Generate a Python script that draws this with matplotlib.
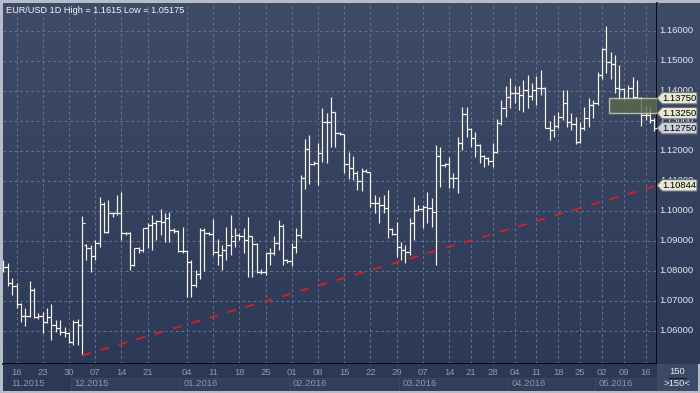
import numpy as np
import matplotlib as mpl
import matplotlib.pyplot as plt
from matplotlib.colors import LinearSegmentedColormap
from matplotlib.patches import Rectangle, Polygon
from matplotlib.transforms import blended_transform_factory

mpl.rcParams.update({'font.family': ['Liberation Sans', 'DejaVu Sans'],
                     'font.size': 6.6})

# daily EUR/USD bars, mid Nov 2015 .. mid May 2016
opens = [
    1.0815, 1.0811, 1.0760, 1.0750, 1.0690, 1.0649, 1.0650, 1.0736, 1.0647, 1.0650,
    1.0630, 1.0647, 1.0619, 1.0608, 1.0597, 1.0593, 1.0563, 1.0630, 1.0619, 1.0886,
    1.0875, 1.0849, 1.0891, 1.1022, 1.0930, 1.0991, 1.0991, 1.0991, 1.0925, 1.0925,
    1.0819, 1.0875, 1.0869, 1.0941, 1.0952, 1.0958, 1.0967, 1.0963, 1.0974, 1.0936,
    1.0933, 1.0866, 1.0866, 1.0828, 1.0752, 1.0788, 1.0936, 1.0925, 1.0922, 1.0862,
    1.0852, 1.0870, 1.0886, 1.0900, 1.0919, 1.0916, 1.0903, 1.0914, 1.0889, 1.0797,
    1.0797, 1.0858, 1.0860, 1.0891, 1.0950, 1.0836, 1.0833, 1.0880, 1.0920, 1.1108,
    1.1206, 1.1156, 1.1158, 1.1193, 1.1297, 1.1295, 1.1328, 1.1258, 1.1256, 1.1156,
    1.1143, 1.1125, 1.1100, 1.1133, 1.1130, 1.1025, 1.1025, 1.1019, 1.1008, 1.0938,
    1.0922, 1.0880, 1.0869, 1.0861, 1.0960, 1.1002, 1.1005, 1.1013, 1.1008, 1.0995,
    1.1182, 1.1152, 1.1155, 1.1108, 1.1108, 1.1225, 1.1322, 1.1272, 1.1241, 1.1219,
    1.1182, 1.1175, 1.1165, 1.1197, 1.1293, 1.1341, 1.1380, 1.1393, 1.1391, 1.1386,
    1.1402, 1.1382, 1.1402, 1.1408, 1.1408, 1.1275, 1.1269, 1.1282, 1.1313, 1.1360,
    1.1297, 1.1289, 1.1230, 1.1275, 1.1308, 1.1352, 1.1358, 1.1452, 1.1538, 1.1497,
    1.1490, 1.1408, 1.1405, 1.1375, 1.1408, 1.1378, 1.1375, 1.1319, 1.1319, 1.1302,
]
highs = [
    1.0835, 1.0827, 1.0775, 1.0758, 1.0691, 1.0675, 1.0767, 1.0741, 1.0660, 1.0663,
    1.0677, 1.0689, 1.0636, 1.0636, 1.0613, 1.0597, 1.0636, 1.0638, 1.0982, 1.0890,
    1.0886, 1.0902, 1.1047, 1.1030, 1.1036, 1.0997, 1.1052, 1.1063, 1.0930, 1.0930,
    1.0875, 1.0880, 1.0941, 1.0958, 1.0986, 1.0969, 1.1005, 1.0991, 1.0997, 1.0941,
    1.0936, 1.0947, 1.0870, 1.0836, 1.0802, 1.0941, 1.0941, 1.0930, 1.0971, 1.0905,
    1.0886, 1.0947, 1.0986, 1.0941, 1.0925, 1.0941, 1.0980, 1.0914, 1.0891, 1.0805,
    1.0860, 1.0875, 1.0914, 1.0969, 1.0955, 1.0838, 1.0891, 1.0941, 1.1120, 1.1238,
    1.1252, 1.1167, 1.1225, 1.1341, 1.1325, 1.1380, 1.1330, 1.1262, 1.1256, 1.1197,
    1.1182, 1.1133, 1.1141, 1.1138, 1.1130, 1.1052, 1.1047, 1.1052, 1.1069, 1.0941,
    1.0963, 1.0897, 1.0886, 1.0975, 1.1047, 1.1019, 1.1019, 1.1063, 1.1041, 1.1219,
    1.1213, 1.1158, 1.1180, 1.1125, 1.1245, 1.1347, 1.1347, 1.1275, 1.1263, 1.1222,
    1.1185, 1.1180, 1.1225, 1.1304, 1.1369, 1.1414, 1.1441, 1.1416, 1.1414, 1.1436,
    1.1452, 1.1425, 1.1449, 1.1469, 1.1411, 1.1300, 1.1319, 1.1330, 1.1402, 1.1402,
    1.1324, 1.1313, 1.1297, 1.1347, 1.1375, 1.1369, 1.1463, 1.1541, 1.1615, 1.1530,
    1.1519, 1.1486, 1.1408, 1.1419, 1.1447, 1.1436, 1.1380, 1.1352, 1.1347, 1.1310,
]
lows = [
    1.0795, 1.0749, 1.0719, 1.0675, 1.0630, 1.0617, 1.0647, 1.0641, 1.0640, 1.0591,
    1.0625, 1.0569, 1.0597, 1.0586, 1.0580, 1.0558, 1.0552, 1.0552, 1.05175, 1.0836,
    1.0797, 1.0836, 1.0880, 1.0925, 1.0925, 1.0980, 1.0986, 1.0902, 1.0919, 1.0802,
    1.0815, 1.0860, 1.0863, 1.0875, 1.0869, 1.0902, 1.0919, 1.0897, 1.0897, 1.0925,
    1.0863, 1.0858, 1.0713, 1.0713, 1.0747, 1.0771, 1.0800, 1.0919, 1.0852, 1.0819,
    1.0802, 1.0836, 1.0852, 1.0880, 1.0903, 1.0860, 1.0780, 1.0780, 1.0791, 1.0788,
    1.0786, 1.0819, 1.0852, 1.0869, 1.0819, 1.0825, 1.0814, 1.0860, 1.0908, 1.1071,
    1.1089, 1.1152, 1.1086, 1.1163, 1.1160, 1.1213, 1.1213, 1.1252, 1.1125, 1.1105,
    1.1102, 1.1069, 1.1067, 1.1128, 1.1013, 1.0991, 1.0958, 1.0991, 1.0908, 1.0919,
    1.0847, 1.0836, 1.0825, 1.0853, 1.0902, 1.1000, 1.0941, 1.0958, 1.0947, 1.0819,
    1.1080, 1.1147, 1.1075, 1.1075, 1.1060, 1.1202, 1.1247, 1.1213, 1.1180, 1.1158,
    1.1145, 1.1152, 1.1145, 1.1191, 1.1286, 1.1313, 1.1341, 1.1358, 1.1336, 1.1330,
    1.1341, 1.1369, 1.1352, 1.1386, 1.1275, 1.1236, 1.1247, 1.1275, 1.1302, 1.1280,
    1.1269, 1.1222, 1.1225, 1.1269, 1.1280, 1.1308, 1.1352, 1.1440, 1.1460, 1.1440,
    1.1391, 1.1369, 1.1367, 1.1372, 1.1371, 1.1372, 1.1282, 1.1302, 1.1291, 1.1265,
]
closes = [
    1.0812, 1.0760, 1.0750, 1.0689, 1.0649, 1.0650, 1.0736, 1.0647, 1.0650, 1.0630,
    1.0647, 1.0619, 1.0608, 1.0597, 1.0593, 1.0563, 1.0630, 1.0619, 1.0960, 1.0875,
    1.0849, 1.0891, 1.1022, 1.0930, 1.0991, 1.0991, 1.0991, 1.0925, 1.0925, 1.0819,
    1.0875, 1.0869, 1.0941, 1.0952, 1.0958, 1.0967, 1.0963, 1.0974, 1.0936, 1.0933,
    1.0866, 1.0866, 1.0828, 1.0752, 1.0788, 1.0936, 1.0925, 1.0922, 1.0862, 1.0852,
    1.0870, 1.0886, 1.0915, 1.0919, 1.0916, 1.0903, 1.0914, 1.0889, 1.0797, 1.0797,
    1.0858, 1.0860, 1.0891, 1.0950, 1.0836, 1.0833, 1.0880, 1.0920, 1.1108, 1.1206,
    1.1156, 1.1158, 1.1193, 1.1297, 1.1295, 1.1328, 1.1258, 1.1256, 1.1156, 1.1143,
    1.1125, 1.1100, 1.1133, 1.1130, 1.1025, 1.1025, 1.1019, 1.1008, 1.0938, 1.0922,
    1.0880, 1.0869, 1.0861, 1.0960, 1.1002, 1.1005, 1.1013, 1.1008, 1.0995, 1.1182,
    1.1152, 1.1155, 1.1108, 1.1108, 1.1225, 1.1322, 1.1272, 1.1241, 1.1219, 1.1182,
    1.1175, 1.1165, 1.1197, 1.1293, 1.1341, 1.1380, 1.1393, 1.1391, 1.1386, 1.1402,
    1.1382, 1.1402, 1.1408, 1.1408, 1.1275, 1.1269, 1.1282, 1.1313, 1.1360, 1.1297,
    1.1289, 1.1230, 1.1275, 1.1308, 1.1352, 1.1358, 1.1452, 1.1538, 1.1497, 1.1490,
    1.1408, 1.1405, 1.1375, 1.1408, 1.1378, 1.1375, 1.1319, 1.1319, 1.1302, 1.1275,
]

# x axis: bar index of each weekly tick and of the first bar of each month
day_ticks = [3, 9, 15, 21, 27, 33, 42, 48, 54, 60, 66, 72, 78, 84, 90, 96,
             102, 107, 112, 117, 122, 127, 132, 137, 142, 147]
day_labels = ['16', '23', '30', '07', '14', '21', '04', '11', '18', '25', '01',
              '08', '15', '22', '29', '07', '14', '21', '28', '04', '11', '18',
              '25', '02', '09', '16']
month_first = [0, 16, 41, 66, 91, 116, 136]
month_labels = ['11.2015', '12.2015', '01.2016', '02.2016', '03.2016',
                '04.2016', '05.2016']

price_ticks = [1.06, 1.07, 1.08, 1.09, 1.10, 1.11, 1.12, 1.13, 1.14, 1.15, 1.16]
title = 'EUR/USD 1D High = 1.1615 Low = 1.05175'

# marked levels on the price scale
zone_high = 1.1375
zone_low = 1.1325
zone_from_bar = 138.5
last_price = 1.1275
trend_from_bar = 18
trend_end_price = 1.10844
bars_shown = 150

W, H = 700, 393
X0, X1, Y0, Y1 = 3, 657, 3, 364    # plot area in pixels
XLIM = (-0.1, 149.6)
YLIM = (1.0489, 1.16923)

BAR = '#fbf6ec'
GRID = '#63718e'
AXTXT = '#e4e8f0'
DAYTXT = '#8c98ae'


def gradient(ax, top, bottom):
    cmap = LinearSegmentedColormap.from_list('bg', [top, bottom])
    g = np.linspace(0, 1, 256).reshape(-1, 1)
    ax.imshow(g, cmap=cmap, aspect='auto', extent=(0, 1, 0, 1),
              transform=ax.transAxes, zorder=0, interpolation='bilinear')


def frac(x, y, w, h):
    return [x / W, 1 - (y + h) / H, w / W, h / H]


fig = plt.figure(figsize=(W / 100, H / 100), dpi=100)
fig.patch.set_facecolor('#b7bcc8')

# ---- main price panel
ax = fig.add_axes(frac(X0, Y0, X1 - X0, Y1 - Y0))
gradient(ax, '#3e4c68', '#2c3957')
x = np.arange(len(closes))
ax.vlines(x, lows, highs, color=BAR, lw=0.85, zorder=3)
ax.hlines(opens, x - 0.65, x, color=BAR, lw=0.85, zorder=3)
ax.hlines(closes, x, x + 0.65, color=BAR, lw=0.85, zorder=3)

ax.set_xlim(*XLIM)
ax.set_ylim(*YLIM)
ax.set_xticks(day_ticks)
ax.set_yticks(price_ticks)
ax.grid(True, color=GRID, lw=0.8, ls=(0, (2.5, 2.5)))
ax.set_axisbelow(True)
ax.tick_params(length=0, labelbottom=False, labelleft=False)
for s in ax.spines.values():
    s.set_visible(False)
for side in ('right', 'bottom'):
    ax.spines[side].set_visible(True)
    ax.spines[side].set_color('black')
    ax.spines[side].set_linewidth(1.2)

ax.plot([trend_from_bar, XLIM[1]], [lows[trend_from_bar], trend_end_price],
        color='#d81e28', lw=1.3, dashes=(5, 5.5), zorder=4)
ax.add_patch(Rectangle((zone_from_bar, zone_low), XLIM[1] - zone_from_bar,
                       zone_high - zone_low, facecolor='#5b6a4a', alpha=0.8,
                       edgecolor='#d2d6bc', lw=1.0, zorder=5))
ax.text(0.004, 0.992, title, transform=ax.transAxes, color='#f4f6fa',
        fontsize=6.6, ha='left', va='top', zorder=6)

# ---- right price scale
ar = fig.add_axes(frac(X1, Y0, W - X1, Y1 - Y0))
gradient(ar, '#3e4c68', '#2c3957')
ar.set_xlim(0, 1)
ar.set_ylim(*YLIM)
ar.axis('off')
for p in price_ticks:
    ar.text(0.46, p, '%.5f' % p, color=AXTXT, ha='center', va='center',
            fontsize=6.8)

tr = blended_transform_factory(ar.transAxes, ar.transData)
hh = 0.0019
for p, fc in [(zone_high, '#e6e8d4'), (zone_low, '#e6e8d4'),
              (last_price, '#cdd1dc'), (trend_end_price, '#e6e8d4')]:
    ar.add_patch(Polygon([(0.0, p), (0.12, p + hh), (0.93, p + hh),
                          (0.93, p - hh), (0.12, p - hh)], closed=True,
                         transform=tr, facecolor=fc, edgecolor='#6e7078',
                         lw=0.8, zorder=5))
    ar.text(0.53, p, '%.5f' % p, transform=tr, color='black', ha='center',
            va='center', fontsize=6.8, zorder=6)

# ---- date scale
ab = fig.add_axes(frac(X0, Y1, X1 - X0, 391 - Y1))
ab.set_xlim(*XLIM)
ab.set_ylim(0, 1)
ab.axis('off')
ab.add_patch(Rectangle((XLIM[0], 0), XLIM[1] - XLIM[0], 1,
                       facecolor='#2c3856', edgecolor='none', zorder=0))
for i, (m0, lab) in enumerate(zip(month_first, month_labels)):
    m1 = month_first[i + 1] if i + 1 < len(month_first) else XLIM[1] + 0.5
    if i > 0:
        ab.add_patch(Rectangle((m0 - 0.5, 0.0), m1 - m0, 0.5,
                               facecolor='#313e5c', edgecolor='#3b4866',
                               lw=0.8, zorder=1))
    ab.text(max(m0 + 0.3, 1.7), 0.27, lab, color=DAYTXT, ha='left',
            va='center', fontsize=6.8, zorder=2)
for t, lab in zip(day_ticks, day_labels):
    ab.text(t, 0.7, lab, color=DAYTXT, ha='center', va='center',
            fontsize=6.8, zorder=2)

# ---- corner box with bar count
ac = fig.add_axes(frac(X1, Y1, W - X1 - 2, 391 - Y1))
ac.set_xlim(0, 1)
ac.set_ylim(0, 1)
ac.axis('off')
ac.add_patch(Rectangle((0, 0), 1, 1, facecolor='#3c4967', edgecolor='none'))
ac.text(0.5, 0.72, str(bars_shown), color=AXTXT, ha='center', va='center',
        fontsize=6.8)
ac.plot([0.3, 0.7], [0.5, 0.5], color='#1c2438', lw=1.0)
ac.text(0.5, 0.27, '>%d<' % bars_shown, color=AXTXT, ha='center',
        va='center', fontsize=6.8)

fig.savefig('out.png', dpi=100, facecolor=fig.get_facecolor())
